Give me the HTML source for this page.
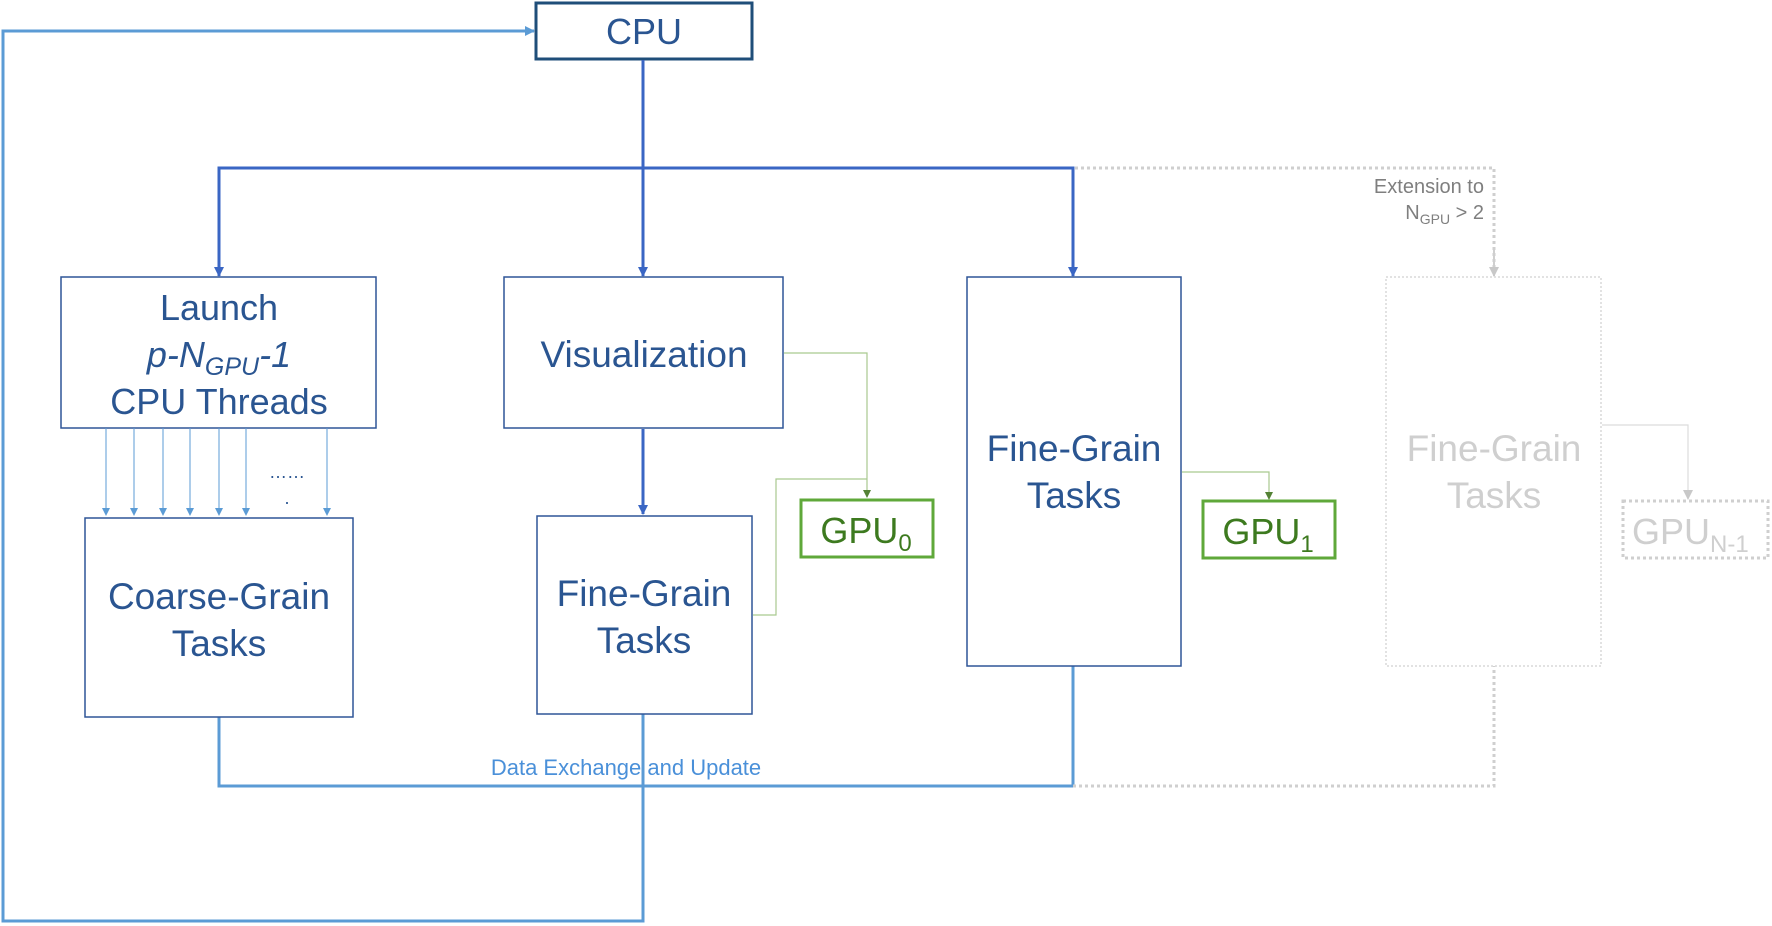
<!DOCTYPE html>
<html><head><meta charset="utf-8"><style>
html,body{margin:0;padding:0;background:#fff;}
svg{display:block;}
text{font-family:"Liberation Sans",Arial,sans-serif;}
</style></head><body>
<svg width="1772" height="926" viewBox="0 0 1772 926" xmlns="http://www.w3.org/2000/svg">
<defs>
<marker id="ab" markerWidth="10" markerHeight="10" refX="9" refY="5" orient="auto" markerUnits="userSpaceOnUse"><path d="M0,0 L10,5 L0,10 z" fill="#3a66c4"/></marker>
<marker id="al" markerWidth="10" markerHeight="10" refX="9" refY="5" orient="auto" markerUnits="userSpaceOnUse"><path d="M0,0 L10,5 L0,10 z" fill="#5b9bd5"/></marker>
<marker id="as" markerWidth="8" markerHeight="8" refX="7" refY="4" orient="auto" markerUnits="userSpaceOnUse"><path d="M0,0 L8,4 L0,8 z" fill="#5b9bd5"/></marker>
<marker id="ag" markerWidth="8" markerHeight="8" refX="7" refY="4" orient="auto" markerUnits="userSpaceOnUse"><path d="M0,0 L8,4 L0,8 z" fill="#548235"/></marker>
<marker id="agr" markerWidth="10" markerHeight="10" refX="9" refY="5" orient="auto" markerUnits="userSpaceOnUse"><path d="M0,0 L10,5 L0,10 z" fill="#c8c8c8"/></marker>
</defs>

<polyline points="643,714 643,921 3,921 3,31 534,31" fill="none" stroke="#5b9bd5" stroke-width="3" marker-end="url(#al)"/>
<polyline points="219,717 219,786 1073,786 1073,666" fill="none" stroke="#5b9bd5" stroke-width="3"/>
<polyline points="1073,786 1494,786 1494,666" fill="none" stroke="#cfcfcf" stroke-width="3" stroke-dasharray="3,3"/>
<text x="626" y="775" font-size="22" fill="#4a90d9" text-anchor="middle">Data Exchange and Update</text>

<rect x="536" y="3" width="216" height="56" fill="#fff" stroke="#1f4e79" stroke-width="3"/>
<text x="644" y="44" font-size="36" fill="#2a5591" text-anchor="middle">CPU</text>

<line x1="643" y1="60" x2="643" y2="276" stroke="#3a66c4" stroke-width="3" marker-end="url(#ab)"/>
<polyline points="219,276 219,168 1073,168 1073,276" fill="none" stroke="#3a66c4" stroke-width="3"/>
<line x1="219" y1="200" x2="219" y2="276" stroke="#3a66c4" stroke-width="3" marker-end="url(#ab)"/>
<line x1="1073" y1="200" x2="1073" y2="276" stroke="#3a66c4" stroke-width="3" marker-end="url(#ab)"/>
<polyline points="1075,168 1494,168 1494,272" fill="none" stroke="#cfcfcf" stroke-width="3" stroke-dasharray="3,3"/>
<line x1="1494" y1="250" x2="1494" y2="276" stroke="#cfcfcf" stroke-width="2" marker-end="url(#agr)"/>
<text x="1484" y="193" font-size="20" fill="#7f7f7f" text-anchor="end">Extension to</text>
<text x="1484" y="219" font-size="20" fill="#7f7f7f" text-anchor="end">N<tspan font-size="14" dy="5">GPU</tspan><tspan dy="-5"> &gt; 2</tspan></text>

<rect x="61" y="277" width="315" height="151" fill="#fff" stroke="#2f5597" stroke-width="1.5"/>
<text x="219" y="320" font-size="36" fill="#2a5591" text-anchor="middle">Launch</text>
<text x="219" y="367" font-size="36" fill="#2a5591" text-anchor="middle" font-style="italic">p-N<tspan font-size="25" dy="8">GPU</tspan><tspan dy="-8">-1</tspan></text>
<text x="219" y="414" font-size="36" fill="#2a5591" text-anchor="middle">CPU Threads</text>

<g stroke="#5b9bd5" stroke-width="1">
<line x1="106" y1="428" x2="106" y2="515" marker-end="url(#as)"/>
<line x1="134" y1="428" x2="134" y2="515" marker-end="url(#as)"/>
<line x1="163" y1="428" x2="163" y2="515" marker-end="url(#as)"/>
<line x1="190" y1="428" x2="190" y2="515" marker-end="url(#as)"/>
<line x1="219" y1="428" x2="219" y2="515" marker-end="url(#as)"/>
<line x1="246" y1="428" x2="246" y2="515" marker-end="url(#as)"/>
<line x1="327" y1="428" x2="327" y2="515" marker-end="url(#as)"/>
</g>
<text x="287" y="478" font-size="18" fill="#2a5591" text-anchor="middle">……</text>
<text x="287" y="504" font-size="18" fill="#2a5591" text-anchor="middle">.</text>

<rect x="85" y="518" width="268" height="199" fill="#fff" stroke="#2f5597" stroke-width="1.5"/>
<text x="219" y="609" font-size="37" fill="#2a5591" text-anchor="middle">Coarse-Grain</text>
<text x="219" y="656" font-size="37" fill="#2a5591" text-anchor="middle">Tasks</text>

<rect x="504" y="277" width="279" height="151" fill="#fff" stroke="#2f5597" stroke-width="1.5"/>
<text x="644" y="367" font-size="37" fill="#2a5591" text-anchor="middle">Visualization</text>
<line x1="643" y1="429" x2="643" y2="514" stroke="#3a66c4" stroke-width="3" marker-end="url(#ab)"/>

<rect x="537" y="516" width="215" height="198" fill="#fff" stroke="#2f5597" stroke-width="1.5"/>
<text x="644" y="606" font-size="37" fill="#2a5591" text-anchor="middle">Fine-Grain</text>
<text x="644" y="653" font-size="37" fill="#2a5591" text-anchor="middle">Tasks</text>

<polyline points="784,353 867,353 867,497" fill="none" stroke="#a9c98f" stroke-width="1.2" marker-end="url(#ag)"/>
<polyline points="753,615 776,615 776,479 867,479" fill="none" stroke="#a9c98f" stroke-width="1.2"/>
<rect x="801" y="500" width="132" height="57" fill="#fff" stroke="#5fa83a" stroke-width="3"/>
<text x="866" y="543" font-size="36" fill="#3d7a1f" text-anchor="middle">GPU<tspan font-size="24" dy="8">0</tspan></text>

<rect x="967" y="277" width="214" height="389" fill="#fff" stroke="#2f5597" stroke-width="1.5"/>
<text x="1074" y="461" font-size="37" fill="#2a5591" text-anchor="middle">Fine-Grain</text>
<text x="1074" y="508" font-size="37" fill="#2a5591" text-anchor="middle">Tasks</text>
<polyline points="1182,472 1269,472 1269,499" fill="none" stroke="#a9c98f" stroke-width="1.2" marker-end="url(#ag)"/>
<rect x="1203" y="501" width="132" height="57" fill="#fff" stroke="#5fa83a" stroke-width="3"/>
<text x="1268" y="544" font-size="36" fill="#3d7a1f" text-anchor="middle">GPU<tspan font-size="24" dy="8">1</tspan></text>

<rect x="1386" y="277" width="215" height="389" fill="#fff" stroke="#d9d9d9" stroke-width="1.5" stroke-dasharray="2,2"/>
<text x="1494" y="461" font-size="37" fill="#cfcfcf" text-anchor="middle">Fine-Grain</text>
<text x="1494" y="508" font-size="37" fill="#cfcfcf" text-anchor="middle">Tasks</text>
<polyline points="1602,425 1688,425 1688,499" fill="none" stroke="#dcdcdc" stroke-width="1.2" marker-end="url(#agr)"/>
<rect x="1623" y="501" width="145" height="57" fill="#fff" stroke="#cfcfcf" stroke-width="3" stroke-dasharray="3,3"/>
<text x="1632" y="544" font-size="36" fill="#cfcfcf">GPU<tspan font-size="24" dy="8">N-1</tspan></text>
</svg>
</body></html>
